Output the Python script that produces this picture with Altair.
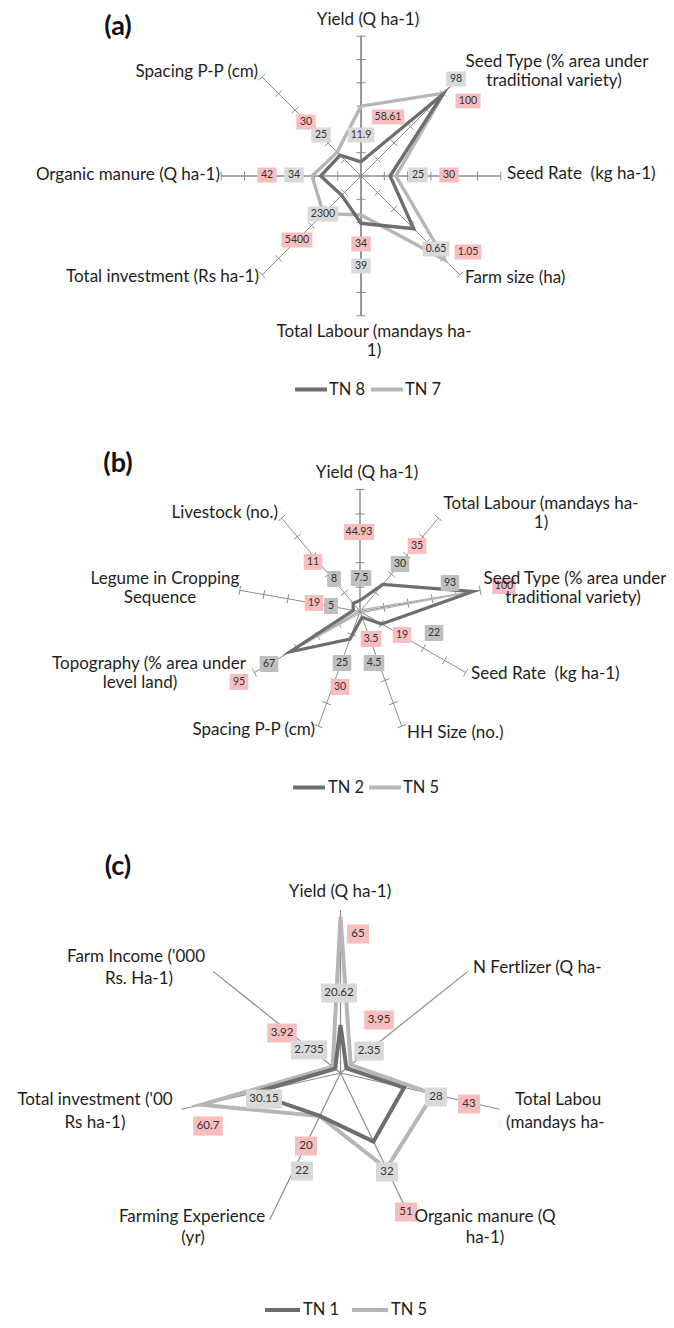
import math
import altair as alt
import pandas as pd

# ---------------- data ----------------
# Panel (a)  (radial values in the chart's own axis units, 0..6)
a_axes = ["Yield (Q ha-1)", "Seed Type (% area under traditional variety)", "Seed Rate  (kg ha-1)",
          "Farm size (ha)", "Total Labour (mandays ha-1)", "Total investment (Rs ha-1)",
          "Organic manure (Q ha-1)", "Spacing P-P (cm)"]
a_series = ["TN 8", "TN 7"]
a_tn8 = [0.61, 4.95, 1.25, 3.2, 2.03, 1.17, 1.73, 1.27]
a_tn7 = [3.0, 5.03, 1.5, 5.1, 1.67, 2.28, 2.1, 1.45]
a_pink = ["58.61", "100", "30", "1.05", "34", "5400", "42", "30"]
a_gray = ["11.9", "98", "25", "0.65", "39", "2300", "34", "25"]

# Panel (b)  (0..5)
b_axes = ["Yield (Q ha-1)", "Total Labour (mandays ha-1)", "Seed Type (% area under traditional variety)",
          "Seed Rate  (kg ha-1)", "HH Size (no.)", "Spacing P-P (cm)",
          "Topography (% area under level land)", "Legume in Cropping Sequence", "Livestock (no.)"]
b_series = ["TN 2", "TN 5"]
b_tn2 = [0.45, 1.45, 4.7, 1.02, 0.25, 1.2, 3.3, 0.28, 0.44]
b_tn5 = [0.1, 0.1, 4.75, 0.1, 0.1, 0.1, 3.35, 0.1, 0.1]
b_pink = ["44.93", "35", "100", "19", "3.5", "30", "95", "19", "11"]
b_gray = ["7.5", "30", "93", "22", "4.5", "25", "67", "5", "8"]

# Panel (c)  (0..6)
c_axes = ["Yield (Q ha-1)", "N Fertlizer (Q ha-1)", "Total Labour (mandays ha-1)",
          "Organic manure (Q ha-1)", "Farming Experience (yr)",
          "Total investment ('000 Rs ha-1)", "Farm Income ('000 Rs. Ha-1)"]
c_series = ["TN 1", "TN 5"]
c_tn1 = [1.77, 0.28, 2.4, 2.8, 1.75, 3.3, 0.25]
c_tn5 = [5.75, 0.48, 3.5, 3.9, 1.76, 5.25, 0.37]
c_pink = ["65", "3.95", "43", "51", "20", "60.7", "3.92"]
c_gray = ["20.62", "2.35", "28", "32", "22", "30.15", "2.735"]

# ---------------- layout (positions / styles, page pixels) ----------------
DARK = "#6e6e6e"
LIGHT = "#b6b6b6"
PINK = "#f8bdbd"
TXT = "#1e1e1e"
FONT = "Lato"
AX_FS = 17

layout = {
    "a": dict(cx=361, cy=176, unit=23.3, rmax=6, tick=4.5,
              spoke_w=[1.8, 1, 1.3, 1, 1.8, 1, 1.3, 1], spoke_c="#8c8c8c",
              dark_w=3.4, light_w=3.4, box=(8, 5.7, 1.5, 15, 10.5), gray_box="#d9d9d9",
              pink_pos=[(388, 117), (468, 101), (449, 175), (468, 252), (361, 244), (297, 240), (267, 175), (306, 122)],
              gray_pos=[(361, 135), (456, 79), (418, 175), (436, 249), (361, 266), (323, 214), (294, 175), (321, 135)]),
    "b": dict(cx=360, cy=611.5, unit=24.4, rmax=5, tick=4.5,
              spoke_w=[1.5, 1, 1, 1, 1, 1, 1, 1, 1], spoke_c="#8c8c8c",
              dark_w=3.2, light_w=1.3, box=(9, 4.8, 2, 16, 10.5), gray_box="#bfbfbf",
              pink_pos=[(359, 532), (417, 546), (504, 586), (402, 635), (371, 639), (340, 687), (239, 682), (314, 603), (313, 562)],
              gray_pos=[(361, 578), (400, 564), (450, 583), (434, 633), (374, 663), (342, 663), (269, 664), (331, 606), (334, 579)]),
    "c": dict(cx=340.5, cy=1073, unit=163 / 6, rmax=6, tick=0,
              spoke_w=[1.2] * 7, spoke_c="#8c8c8c",
              dark_w=4, light_w=4, box=(9, 6.5, 1, 19, 11.5), gray_box="#d9d9d9",
              pink_pos=[(358, 934), (379, 1020), (469, 1104), (406, 1212), (306, 1146), (208, 1126), (282, 1033)],
              gray_pos=[(339, 993), (369, 1051), (436, 1097), (387, 1172), (302, 1171), (264, 1099), (309, 1050)]),
}

axis_text = [
    # panel a
    ("Yield (Q ha-1)", 368, 20, "center"),
    ("Seed Type (% area under", 557, 62, "center"), ("traditional variety)", 554, 81, "center"),
    ("Seed Rate\u00a0\u00a0(kg ha-1)", 507, 174, "left"),
    ("Farm size (ha)", 465, 278, "left"),
    ("Total Labour (mandays ha-", 374, 332, "center"), ("1)", 374, 351, "center"),
    ("Total investment (Rs ha-1)", 259, 277, "right"),
    ("Organic manure (Q ha-1)", 220, 175, "right"),
    ("Spacing P-P (cm)", 258, 72, "right"),
    # panel b
    ("Yield (Q ha-1)", 367, 473, "center"),
    ("Total Labour (mandays ha-", 541, 504, "center"), ("1)", 541, 523, "center"),
    ("Seed Type (% area under", 575, 579, "center"), ("traditional variety)", 573, 598, "center"),
    ("Seed Rate\u00a0\u00a0(kg ha-1)", 471, 674, "left"),
    ("HH Size (no.)", 407, 733, "left"),
    ("Spacing P-P (cm)", 315, 730, "right"),
    ("Topography (% area under", 149, 664, "center"), ("level land)", 140, 683, "center"),
    ("Legume in Cropping", 165, 579, "center"), ("Sequence", 160, 598, "center"),
    ("Livestock (no.)", 278, 513, "right"),
    # panel c
    ("Yield (Q ha-1)", 340, 892, "center"),
    ("N Fertlizer (Q ha-", 473, 968, "left"),
    ("Total Labou", 515, 1100, "left"), ("(mandays ha-", 506, 1123, "left"),
    ("Organic manure (Q", 485, 1217, "center"), ("ha-1)", 485, 1238, "center"),
    ("Farming Experience", 192, 1217, "center"), ("(yr)", 193, 1238, "center"),
    ("Total investment ('00", 95, 1100, "center"), ("Rs ha-1)", 95, 1123, "center"),
    ("Farm Income ('000", 136, 957, "center"), ("Rs. Ha-1)", 139, 979, "center"),
]

titles = [("(a)", 118, 27), ("(b)", 118, 464), ("(c)", 118, 867)]

# legend: (y, dark swatch x1, x2, dark text x, light swatch x1, x2, light text x)
legend_pos = {"a": (389.5, 295, 327, 329, 371, 403, 405),
              "b": (787.5, 293, 325, 328, 369, 401, 403),
              "c": (1310, 265, 300, 303, 352, 388, 391)}

panels = {
    "a": dict(axes=a_axes, names=a_series, dark=a_tn8, light=a_tn7, pink=a_pink, gray=a_gray),
    "b": dict(axes=b_axes, names=b_series, dark=b_tn2, light=b_tn5, pink=b_pink, gray=b_gray),
    "c": dict(axes=c_axes, names=c_series, dark=c_tn1, light=c_tn5, pink=c_pink, gray=c_gray),
}

# ---------------- build tables ----------------
spokes, ticks, lines, boxes, legsw, legtx = [], [], [], [], [], []
for p, d in panels.items():
    L = layout[p]
    n = len(d["axes"])
    for i in range(n):
        spokes.append(dict(panel=p, idx=i, n=n, cx=L["cx"], cy=L["cy"], R=L["rmax"] * L["unit"],
                           sw=L["spoke_w"][i], col=L["spoke_c"]))
        if L["tick"] > 0:
            for k in range(1, L["rmax"] + 1):
                ticks.append(dict(panel=p, idx=i, n=n, k=k, cx=L["cx"], cy=L["cy"], unit=L["unit"],
                                  h=L["tick"], col=L["spoke_c"]))
    for z, (key, colr, w) in enumerate([("light", LIGHT, L["light_w"]), ("dark", DARK, L["dark_w"])]):
        vals = d[key]
        for k in range(n + 1):
            i = k % n
            lines.append(dict(panel=p, grp=p + key, z=z, col=colr, sw=w, k=k, idx=i, n=n, r=vals[i],
                              cx=L["cx"], cy=L["cy"], unit=L["unit"]))
    pad, cw, dw, h, fs = L["box"]
    for lab, pos, fill in [(d["pink"], L["pink_pos"], PINK), (d["gray"], L["gray_pos"], L["gray_box"])]:
        for t, (x, y) in zip(lab, pos):
            boxes.append(dict(panel=p, t=t, x=x, y=y, fill=fill, pad=pad, cw=cw, dw=dw, h=h, fs=fs))
    y, d1, d2, dt, l1, l2, lt = legend_pos[p]
    legsw.append(dict(x=d1, x2=d2, y=y, col=DARK))
    legsw.append(dict(x=l1, x2=l2, y=y, col=LIGHT))
    legtx.append(dict(x=dt, y=y, t=d["names"][0]))
    legtx.append(dict(x=lt, y=y, t=d["names"][1]))

df_spokes = pd.DataFrame(spokes)
df_ticks = pd.DataFrame(ticks)
df_lines = pd.DataFrame(lines)
df_boxes = pd.DataFrame(boxes)
df_axis = pd.DataFrame(axis_text, columns=["t", "x", "y", "align"])
df_titles = pd.DataFrame(titles, columns=["t", "x", "y"])
df_legsw = pd.DataFrame(legsw)
df_legtx = pd.DataFrame(legtx)

W, H = 658, 1312
xs = alt.Scale(domain=[8, 8 + W], nice=False, zero=False)
ys = alt.Scale(domain=[8, 8 + H], reverse=True, nice=False, zero=False)


def X(f="x"):
    return alt.X(f + ":Q", scale=xs, axis=None)


def Y(f="y"):
    return alt.Y(f + ":Q", scale=ys, axis=None)


spoke_layer = alt.Chart(df_spokes).transform_calculate(
    ang="2*PI*datum.idx/datum.n",
    x="datum.cx", y="datum.cy",
    x2="datum.cx + datum.R*sin(datum.ang)",
    y2="datum.cy - datum.R*cos(datum.ang)",
).mark_rule().encode(
    x=X(), y=Y(), x2="x2:Q", y2="y2:Q",
    color=alt.Color("col:N", scale=None),
    strokeWidth=alt.StrokeWidth("sw:Q", scale=None),
)

tick_layer = alt.Chart(df_ticks).transform_calculate(
    ang="2*PI*datum.idx/datum.n",
    px="datum.cx + datum.k*datum.unit*sin(datum.ang)",
    py="datum.cy - datum.k*datum.unit*cos(datum.ang)",
    x="datum.px - datum.h*cos(datum.ang)",
    x2="datum.px + datum.h*cos(datum.ang)",
    y="datum.py - datum.h*sin(datum.ang)",
    y2="datum.py + datum.h*sin(datum.ang)",
).mark_rule(strokeWidth=1).encode(
    x=X(), y=Y(), x2="x2:Q", y2="y2:Q",
    color=alt.Color("col:N", scale=None),
)


def line_layer(zv):
    return alt.Chart(df_lines).transform_filter(
        alt.datum.z == zv
    ).transform_calculate(
        ang="2*PI*datum.idx/datum.n",
        x="datum.cx + datum.r*datum.unit*sin(datum.ang)",
        y="datum.cy - datum.r*datum.unit*cos(datum.ang)",
    ).mark_line(strokeJoin="miter", strokeMiterLimit=20).encode(
        x=X(), y=Y(), order="k:Q", detail="grp:N",
        color=alt.Color("col:N", scale=None),
        strokeWidth=alt.StrokeWidth("sw:Q", scale=None),
    )


nodot = "length(replace(datum.t, '.', ''))"
box_layer = alt.Chart(df_boxes).transform_calculate(
    w=f"datum.pad + datum.cw*{nodot} + datum.dw*(length(datum.t) - {nodot})",
    x1="datum.x - datum.w/2", x2="datum.x + datum.w/2",
    y1="datum.y - datum.h/2", y2="datum.y + datum.h/2",
).mark_rect().encode(
    x=X("x1"), x2="x2:Q", y=Y("y1"), y2="y2:Q",
    color=alt.Color("fill:N", scale=None),
)

box_text = alt.Chart(df_boxes).mark_text(font=FONT, color="#333333", baseline="middle", align="center").encode(
    x=X(), y=Y(), text="t:N", size=alt.Size("fs:Q", scale=None),
)


def axis_layer(al):
    return alt.Chart(df_axis).transform_filter(alt.datum.align == al).mark_text(
        font=FONT, fontSize=AX_FS, color=TXT, align=al, baseline="middle"
    ).encode(x=X(), y=Y(), text="t:N")


title_layer = alt.Chart(df_titles).mark_text(
    font=FONT, fontSize=27, fontWeight="bold", color="#111111", align="center", baseline="middle"
).encode(x=X(), y=Y(), text="t:N")

leg_sw = alt.Chart(df_legsw).mark_rule(strokeWidth=4).encode(
    x=X(), x2="x2:Q", y=Y(), color=alt.Color("col:N", scale=None)
)
leg_tx = alt.Chart(df_legtx).mark_text(
    font=FONT, fontSize=16.5, color=TXT, align="left", baseline="middle"
).encode(x=X(), y=Y(), text="t:N")

chart = alt.layer(
    spoke_layer, tick_layer, line_layer(0), line_layer(1), box_layer, box_text,
    axis_layer("left"), axis_layer("center"), axis_layer("right"),
    title_layer, leg_sw, leg_tx,
).properties(
    width=W, height=H, padding=0,
    autosize=alt.AutoSizeParams(type="none"),
).configure_view(stroke=None)

chart.save("out.html", embed_options={"renderer": "svg", "actions": False})
